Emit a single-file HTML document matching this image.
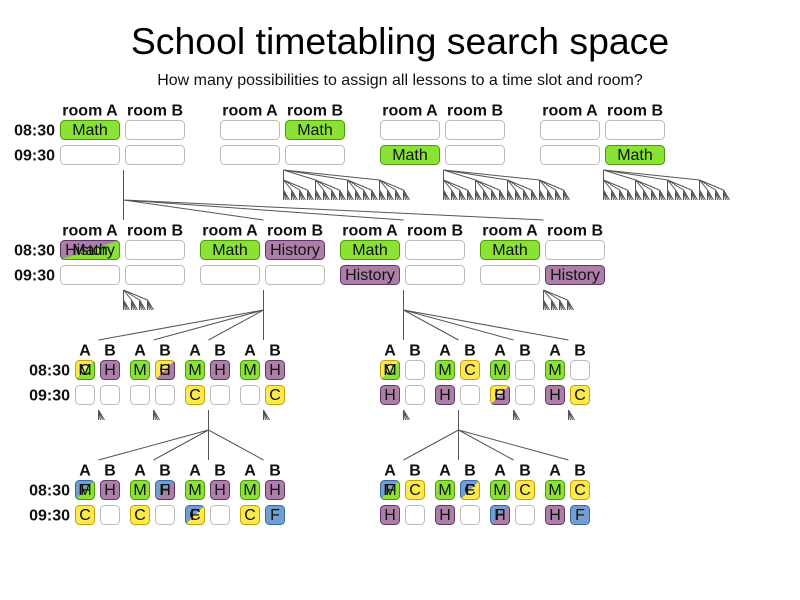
<!DOCTYPE html>
<html><head><meta charset="utf-8"><style>
html,body{margin:0;padding:0;background:#fff;}
svg{display:block;}
text{font-family:"Liberation Sans",Arial,sans-serif;}
.h{font-size:16px;font-weight:bold;fill:#111;text-anchor:middle;}
.l{font-size:16px;font-weight:bold;fill:#111;text-anchor:end;}
.t{font-size:16px;fill:#111;text-anchor:middle;}
rect{stroke-width:1;}
.e{fill:#fff;stroke:#babdb6;}
.g{fill:#8ae234;stroke:#4e9a06;}
.p{fill:#ad7fa8;stroke:#5c3566;}
.y{fill:#fce94f;stroke:#c4a000;}
.b{fill:#729fcf;stroke:#3465a4;}
.tr{stroke:#555;stroke-width:1;fill:none;}
</style></head><body>
<svg width="800" height="600" viewBox="0 0 800 600" xmlns="http://www.w3.org/2000/svg">
<defs>
<clipPath id="br" clipPathUnits="objectBoundingBox"><polygon points="1.5,-0.5 1.5,1.5 -0.5,1.5"/></clipPath>
<g id="fan"><path class="tr" d="M0,0L0,10M0,0L2,10M0,0L4,10M0,0L6,10"/></g>
<g id="t2"><path class="tr" d="M0,0L0,10M0,0L8,10M0,0L16,10M0,0L24,10"/>
<use href="#fan" x="0" y="10"/><use href="#fan" x="8" y="10"/><use href="#fan" x="16" y="10"/><use href="#fan" x="24" y="10"/></g>
<g id="t3"><path class="tr" d="M0,0L0,10M0,0L32,10M0,0L64,10M0,0L96,10"/>
<use href="#t2" x="0" y="10"/><use href="#t2" x="32" y="10"/><use href="#t2" x="64" y="10"/><use href="#t2" x="96" y="10"/></g>
</defs>

<text x="400" y="54" style="font-size:37.4px;fill:#000;text-anchor:middle;">School timetabling search space</text>
<text x="400" y="85" style="font-size:16px;fill:#111;text-anchor:middle;">How many possibilities to assign all lessons to a time slot and room?</text>

<!-- Row 1 -->
<text class="l" x="55" y="135.5">08:30</text>
<text class="l" x="55" y="160.5">09:30</text>
<text class="h" x="90" y="115.5">room A</text><text class="h" x="155" y="115.5">room B</text>
<text class="h" x="250" y="115.5">room A</text><text class="h" x="315" y="115.5">room B</text>
<text class="h" x="410" y="115.5">room A</text><text class="h" x="475" y="115.5">room B</text>
<text class="h" x="570" y="115.5">room A</text><text class="h" x="635" y="115.5">room B</text>

<rect class="g" x="60.5" y="120.5" width="59" height="19" rx="4"/><text class="t" x="90" y="135">Math</text>
<rect class="e" x="125.5" y="120.5" width="59" height="19" rx="4"/>
<rect class="e" x="60.5" y="145.5" width="59" height="19" rx="4"/>
<rect class="e" x="125.5" y="145.5" width="59" height="19" rx="4"/>

<rect class="e" x="220.5" y="120.5" width="59" height="19" rx="4"/>
<rect class="g" x="285.5" y="120.5" width="59" height="19" rx="4"/><text class="t" x="315" y="135">Math</text>
<rect class="e" x="220.5" y="145.5" width="59" height="19" rx="4"/>
<rect class="e" x="285.5" y="145.5" width="59" height="19" rx="4"/>

<rect class="e" x="380.5" y="120.5" width="59" height="19" rx="4"/>
<rect class="e" x="445.5" y="120.5" width="59" height="19" rx="4"/>
<rect class="g" x="380.5" y="145.5" width="59" height="19" rx="4"/><text class="t" x="410" y="160">Math</text>
<rect class="e" x="445.5" y="145.5" width="59" height="19" rx="4"/>

<rect class="e" x="540.5" y="120.5" width="59" height="19" rx="4"/>
<rect class="e" x="605.5" y="120.5" width="59" height="19" rx="4"/>
<rect class="e" x="540.5" y="145.5" width="59" height="19" rx="4"/>
<rect class="g" x="605.5" y="145.5" width="59" height="19" rx="4"/><text class="t" x="635" y="160">Math</text>

<!-- Trees row 1 -->
<g transform="translate(0.5,0)">
<path class="tr" d="M123,170L123,220M123,200L263,220M123,200L403,220M123,200L543,220"/>
<use href="#t3" x="283" y="170"/>
<use href="#t3" x="443" y="170"/>
<use href="#t3" x="603" y="170"/>
</g>

<!-- Row 2 -->
<text class="l" x="55" y="255.5">08:30</text>
<text class="l" x="55" y="280.5">09:30</text>
<text class="h" x="90" y="235.5">room A</text><text class="h" x="155" y="235.5">room B</text>
<text class="h" x="230" y="235.5">room A</text><text class="h" x="295" y="235.5">room B</text>
<text class="h" x="370" y="235.5">room A</text><text class="h" x="435" y="235.5">room B</text>
<text class="h" x="510" y="235.5">room A</text><text class="h" x="575" y="235.5">room B</text>

<rect class="p" x="60.5" y="240.5" width="59" height="19" rx="4"/>
<rect class="g" x="60.5" y="240.5" width="59" height="19" rx="4" clip-path="url(#br)"/>
<text class="t" x="90" y="255">History</text><text class="t" x="90" y="255">Math</text>
<rect class="e" x="125.5" y="240.5" width="59" height="19" rx="4"/>
<rect class="e" x="60.5" y="265.5" width="59" height="19" rx="4"/>
<rect class="e" x="125.5" y="265.5" width="59" height="19" rx="4"/>

<rect class="g" x="200.5" y="240.5" width="59" height="19" rx="4"/><text class="t" x="230" y="255">Math</text>
<rect class="p" x="265.5" y="240.5" width="59" height="19" rx="4"/><text class="t" x="295" y="255">History</text>
<rect class="e" x="200.5" y="265.5" width="59" height="19" rx="4"/>
<rect class="e" x="265.5" y="265.5" width="59" height="19" rx="4"/>

<rect class="g" x="340.5" y="240.5" width="59" height="19" rx="4"/><text class="t" x="370" y="255">Math</text>
<rect class="e" x="405.5" y="240.5" width="59" height="19" rx="4"/>
<rect class="p" x="340.5" y="265.5" width="59" height="19" rx="4"/><text class="t" x="370" y="280">History</text>
<rect class="e" x="405.5" y="265.5" width="59" height="19" rx="4"/>

<rect class="g" x="480.5" y="240.5" width="59" height="19" rx="4"/><text class="t" x="510" y="255">Math</text>
<rect class="e" x="545.5" y="240.5" width="59" height="19" rx="4"/>
<rect class="e" x="480.5" y="265.5" width="59" height="19" rx="4"/>
<rect class="p" x="545.5" y="265.5" width="59" height="19" rx="4"/><text class="t" x="575" y="280">History</text>

<!-- Trees row 2 -->
<g transform="translate(0.5,0)">
<use href="#t2" x="123" y="290"/>
<use href="#t2" x="543" y="290"/>
<path class="tr" d="M263,290L263,340M263,310L98,340M263,310L153,340M263,310L208,340"/>
<path class="tr" d="M403,290L403,340M403,310L458,340M403,310L513,340M403,310L568,340"/>
</g>

<!-- Row 3 -->
<text class="l" x="70" y="375.5">08:30</text>
<text class="l" x="70" y="400.5">09:30</text>
<g>
<text class="h" x="85" y="355.5">A</text><text class="h" x="110" y="355.5">B</text>
<text class="h" x="140" y="355.5">A</text><text class="h" x="165" y="355.5">B</text>
<text class="h" x="195" y="355.5">A</text><text class="h" x="220" y="355.5">B</text>
<text class="h" x="250" y="355.5">A</text><text class="h" x="275" y="355.5">B</text>
<text class="h" x="390" y="355.5">A</text><text class="h" x="415" y="355.5">B</text>
<text class="h" x="445" y="355.5">A</text><text class="h" x="470" y="355.5">B</text>
<text class="h" x="500" y="355.5">A</text><text class="h" x="525" y="355.5">B</text>
<text class="h" x="555" y="355.5">A</text><text class="h" x="580" y="355.5">B</text>
</g>

<!-- G1 -->
<rect class="y" x="75.5" y="360.5" width="19" height="19" rx="4"/>
<rect class="g" x="75.5" y="360.5" width="19" height="19" rx="4" clip-path="url(#br)"/>
<text class="t" x="85" y="375">M</text><text class="t" x="85" y="375">C</text>
<rect class="p" x="100.5" y="360.5" width="19" height="19" rx="4"/><text class="t" x="110" y="375">H</text>
<rect class="e" x="75.5" y="385.5" width="19" height="19" rx="4"/>
<rect class="e" x="100.5" y="385.5" width="19" height="19" rx="4"/>
<!-- G2 -->
<rect class="g" x="130.5" y="360.5" width="19" height="19" rx="4"/><text class="t" x="140" y="375">M</text>
<rect class="y" x="155.5" y="360.5" width="19" height="19" rx="4"/>
<rect class="p" x="155.5" y="360.5" width="19" height="19" rx="4" clip-path="url(#br)"/>
<text class="t" x="165" y="375">H</text><text class="t" x="165" y="375">C</text>
<rect class="e" x="130.5" y="385.5" width="19" height="19" rx="4"/>
<rect class="e" x="155.5" y="385.5" width="19" height="19" rx="4"/>
<!-- G3 -->
<rect class="g" x="185.5" y="360.5" width="19" height="19" rx="4"/><text class="t" x="195" y="375">M</text>
<rect class="p" x="210.5" y="360.5" width="19" height="19" rx="4"/><text class="t" x="220" y="375">H</text>
<rect class="y" x="185.5" y="385.5" width="19" height="19" rx="4"/><text class="t" x="195" y="400">C</text>
<rect class="e" x="210.5" y="385.5" width="19" height="19" rx="4"/>
<!-- G4 -->
<rect class="g" x="240.5" y="360.5" width="19" height="19" rx="4"/><text class="t" x="250" y="375">M</text>
<rect class="p" x="265.5" y="360.5" width="19" height="19" rx="4"/><text class="t" x="275" y="375">H</text>
<rect class="e" x="240.5" y="385.5" width="19" height="19" rx="4"/>
<rect class="y" x="265.5" y="385.5" width="19" height="19" rx="4"/><text class="t" x="275" y="400">C</text>
<!-- G5 -->
<rect class="y" x="380.5" y="360.5" width="19" height="19" rx="4"/>
<rect class="g" x="380.5" y="360.5" width="19" height="19" rx="4" clip-path="url(#br)"/>
<text class="t" x="390" y="375">M</text><text class="t" x="390" y="375">C</text>
<rect class="e" x="405.5" y="360.5" width="19" height="19" rx="4"/>
<rect class="p" x="380.5" y="385.5" width="19" height="19" rx="4"/><text class="t" x="390" y="400">H</text>
<rect class="e" x="405.5" y="385.5" width="19" height="19" rx="4"/>
<!-- G6 -->
<rect class="g" x="435.5" y="360.5" width="19" height="19" rx="4"/><text class="t" x="445" y="375">M</text>
<rect class="y" x="460.5" y="360.5" width="19" height="19" rx="4"/><text class="t" x="470" y="375">C</text>
<rect class="p" x="435.5" y="385.5" width="19" height="19" rx="4"/><text class="t" x="445" y="400">H</text>
<rect class="e" x="460.5" y="385.5" width="19" height="19" rx="4"/>
<!-- G7 -->
<rect class="g" x="490.5" y="360.5" width="19" height="19" rx="4"/><text class="t" x="500" y="375">M</text>
<rect class="e" x="515.5" y="360.5" width="19" height="19" rx="4"/>
<rect class="y" x="490.5" y="385.5" width="19" height="19" rx="4"/>
<rect class="p" x="490.5" y="385.5" width="19" height="19" rx="4" clip-path="url(#br)"/>
<text class="t" x="500" y="400">H</text><text class="t" x="500" y="400">C</text>
<rect class="e" x="515.5" y="385.5" width="19" height="19" rx="4"/>
<!-- G8 -->
<rect class="g" x="545.5" y="360.5" width="19" height="19" rx="4"/><text class="t" x="555" y="375">M</text>
<rect class="e" x="570.5" y="360.5" width="19" height="19" rx="4"/>
<rect class="p" x="545.5" y="385.5" width="19" height="19" rx="4"/><text class="t" x="555" y="400">H</text>
<rect class="y" x="570.5" y="385.5" width="19" height="19" rx="4"/><text class="t" x="580" y="400">C</text>

<!-- Trees row 3 -->
<g transform="translate(0.5,0)">
<use href="#fan" x="98" y="410"/>
<use href="#fan" x="153" y="410"/>
<use href="#fan" x="263" y="410"/>
<use href="#fan" x="403" y="410"/>
<use href="#fan" x="513" y="410"/>
<use href="#fan" x="568" y="410"/>
<path class="tr" d="M208,410L208,460M208,430L98,460M208,430L153,460M208,430L263,460"/>
<path class="tr" d="M458,410L458,460M458,430L403,460M458,430L513,460M458,430L568,460"/>
</g>

<!-- Row 4 -->
<text class="l" x="70" y="495.5">08:30</text>
<text class="l" x="70" y="520.5">09:30</text>
<g>
<text class="h" x="85" y="475.5">A</text><text class="h" x="110" y="475.5">B</text>
<text class="h" x="140" y="475.5">A</text><text class="h" x="165" y="475.5">B</text>
<text class="h" x="195" y="475.5">A</text><text class="h" x="220" y="475.5">B</text>
<text class="h" x="250" y="475.5">A</text><text class="h" x="275" y="475.5">B</text>
<text class="h" x="390" y="475.5">A</text><text class="h" x="415" y="475.5">B</text>
<text class="h" x="445" y="475.5">A</text><text class="h" x="470" y="475.5">B</text>
<text class="h" x="500" y="475.5">A</text><text class="h" x="525" y="475.5">B</text>
<text class="h" x="555" y="475.5">A</text><text class="h" x="580" y="475.5">B</text>
</g>

<!-- G1 -->
<rect class="b" x="75.5" y="480.5" width="19" height="19" rx="4"/>
<rect class="g" x="75.5" y="480.5" width="19" height="19" rx="4" clip-path="url(#br)"/>
<text class="t" x="85" y="495">M</text><text class="t" x="85" y="495">F</text>
<rect class="p" x="100.5" y="480.5" width="19" height="19" rx="4"/><text class="t" x="110" y="495">H</text>
<rect class="y" x="75.5" y="505.5" width="19" height="19" rx="4"/><text class="t" x="85" y="520">C</text>
<rect class="e" x="100.5" y="505.5" width="19" height="19" rx="4"/>
<!-- G2 -->
<rect class="g" x="130.5" y="480.5" width="19" height="19" rx="4"/><text class="t" x="140" y="495">M</text>
<rect class="b" x="155.5" y="480.5" width="19" height="19" rx="4"/>
<rect class="p" x="155.5" y="480.5" width="19" height="19" rx="4" clip-path="url(#br)"/>
<text class="t" x="165" y="495">H</text><text class="t" x="165" y="495">F</text>
<rect class="y" x="130.5" y="505.5" width="19" height="19" rx="4"/><text class="t" x="140" y="520">C</text>
<rect class="e" x="155.5" y="505.5" width="19" height="19" rx="4"/>
<!-- G3 -->
<rect class="g" x="185.5" y="480.5" width="19" height="19" rx="4"/><text class="t" x="195" y="495">M</text>
<rect class="p" x="210.5" y="480.5" width="19" height="19" rx="4"/><text class="t" x="220" y="495">H</text>
<rect class="b" x="185.5" y="505.5" width="19" height="19" rx="4"/>
<rect class="y" x="185.5" y="505.5" width="19" height="19" rx="4" clip-path="url(#br)"/>
<text class="t" x="195" y="520">C</text><text class="t" x="195" y="520">F</text>
<rect class="e" x="210.5" y="505.5" width="19" height="19" rx="4"/>
<!-- G4 -->
<rect class="g" x="240.5" y="480.5" width="19" height="19" rx="4"/><text class="t" x="250" y="495">M</text>
<rect class="p" x="265.5" y="480.5" width="19" height="19" rx="4"/><text class="t" x="275" y="495">H</text>
<rect class="y" x="240.5" y="505.5" width="19" height="19" rx="4"/><text class="t" x="250" y="520">C</text>
<rect class="b" x="265.5" y="505.5" width="19" height="19" rx="4"/><text class="t" x="275" y="520">F</text>
<!-- G5 -->
<rect class="b" x="380.5" y="480.5" width="19" height="19" rx="4"/>
<rect class="g" x="380.5" y="480.5" width="19" height="19" rx="4" clip-path="url(#br)"/>
<text class="t" x="390" y="495">M</text><text class="t" x="390" y="495">F</text>
<rect class="y" x="405.5" y="480.5" width="19" height="19" rx="4"/><text class="t" x="415" y="495">C</text>
<rect class="p" x="380.5" y="505.5" width="19" height="19" rx="4"/><text class="t" x="390" y="520">H</text>
<rect class="e" x="405.5" y="505.5" width="19" height="19" rx="4"/>
<!-- G6 -->
<rect class="g" x="435.5" y="480.5" width="19" height="19" rx="4"/><text class="t" x="445" y="495">M</text>
<rect class="b" x="460.5" y="480.5" width="19" height="19" rx="4"/>
<rect class="y" x="460.5" y="480.5" width="19" height="19" rx="4" clip-path="url(#br)"/>
<text class="t" x="470" y="495">C</text><text class="t" x="470" y="495">F</text>
<rect class="p" x="435.5" y="505.5" width="19" height="19" rx="4"/><text class="t" x="445" y="520">H</text>
<rect class="e" x="460.5" y="505.5" width="19" height="19" rx="4"/>
<!-- G7 -->
<rect class="g" x="490.5" y="480.5" width="19" height="19" rx="4"/><text class="t" x="500" y="495">M</text>
<rect class="y" x="515.5" y="480.5" width="19" height="19" rx="4"/><text class="t" x="525" y="495">C</text>
<rect class="b" x="490.5" y="505.5" width="19" height="19" rx="4"/>
<rect class="p" x="490.5" y="505.5" width="19" height="19" rx="4" clip-path="url(#br)"/>
<text class="t" x="500" y="520">H</text><text class="t" x="500" y="520">F</text>
<rect class="e" x="515.5" y="505.5" width="19" height="19" rx="4"/>
<!-- G8 -->
<rect class="g" x="545.5" y="480.5" width="19" height="19" rx="4"/><text class="t" x="555" y="495">M</text>
<rect class="y" x="570.5" y="480.5" width="19" height="19" rx="4"/><text class="t" x="580" y="495">C</text>
<rect class="p" x="545.5" y="505.5" width="19" height="19" rx="4"/><text class="t" x="555" y="520">H</text>
<rect class="b" x="570.5" y="505.5" width="19" height="19" rx="4"/><text class="t" x="580" y="520">F</text>
</svg>
</body></html>
